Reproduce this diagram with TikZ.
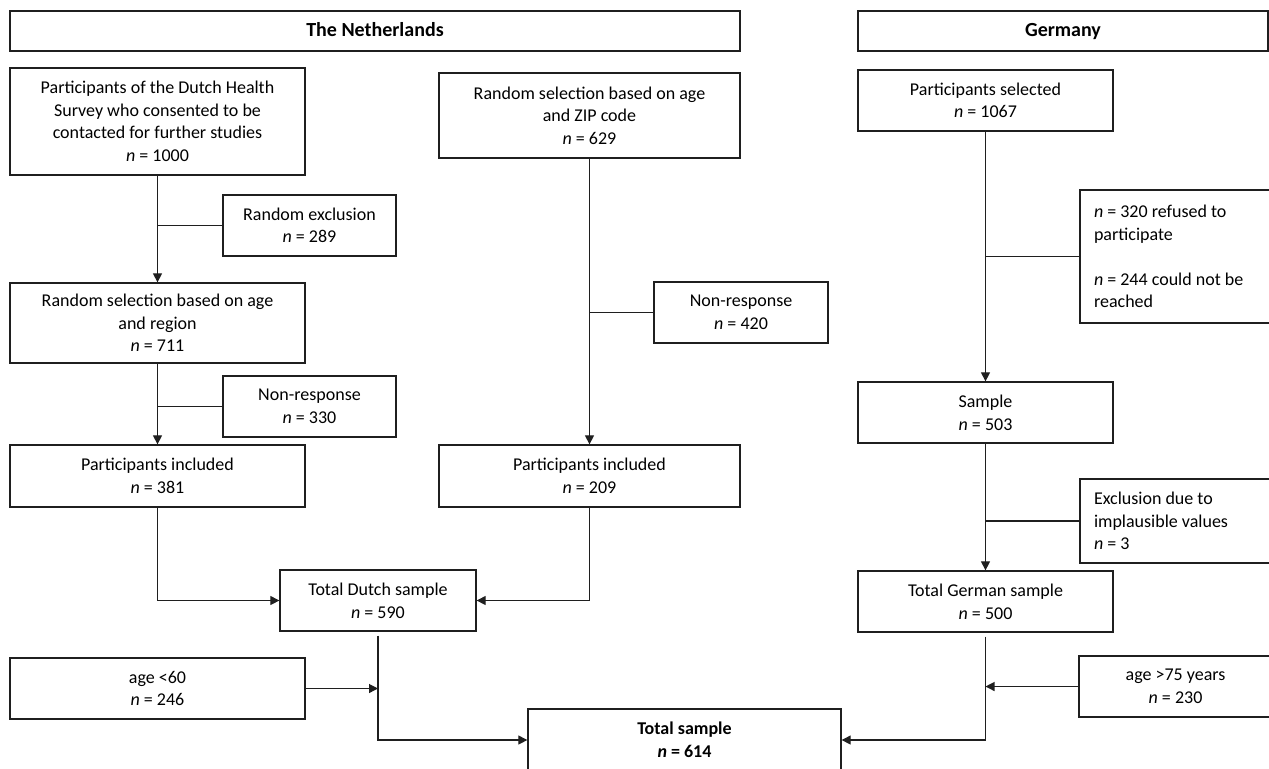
\documentclass[tikz,border=0pt]{standalone}
\usepackage{fontspec}
\setmainfont{Carlito}
\usetikzlibrary{arrows.meta}
\definecolor{linescolor}{rgb}{0.12,0.12,0.12}

\begin{document}
\begin{tikzpicture}[x=0.5pt,y=-0.5pt,
	box/.style={draw=linescolor,line width=0.65pt,align=center,inner sep=2pt,font=\myfont},
	headbox/.style={box,minimum height=20pt,text height=7pt,text depth=2pt,font=\fontsize{10}{12}\selectfont\bfseries},
	sidebox/.style={box,align=flush left,text width=82pt,inner sep=0pt},
	arr/.style={draw=linescolor,line width=0.6pt,-{Triangle[length=4.5pt,width=4.5pt]}},
	branch/.style={draw=linescolor,line width=0.6pt}]

\newcommand{\myfont}{\fontsize{9}{11.3}\selectfont}
\newcommand{\nn}{\textit{n}}

\useasboundingbox (0,0) rectangle (1269,768);

% headers
\node [headbox,minimum width=365pt] (nlhead) at (375,31) {The Netherlands};
\node [headbox,minimum width=205pt] (dehead) at (1063,31) {Germany};

% the netherlands, first sample
\node [box,minimum width=147.5pt,minimum height=53.5pt] (dhs) at (157.5,121.5) {Participants of the Dutch Health\\Survey who consented to be\\contacted for further studies\\\nn{} = 1000};
\node [box,minimum width=86.5pt,minimum height=30.5pt] (randexcl) at (309.5,225.5) {Random exclusion\\\nn{} = 289};
\node [box,minimum width=147.5pt,minimum height=40pt] (regionsel) at (157.5,323) {Random selection based on age\\and region\\\nn{} = 711};
\node [box,minimum width=86.5pt,minimum height=30.5pt] (nonresp1) at (309.5,406.5) {Non-response\\\nn{} = 330};
\node [box,minimum width=147.5pt,minimum height=31pt] (inclnl1) at (157.5,476) {Participants included\\\nn{} = 381};

% the netherlands, second sample
\node [box,minimum width=150.5pt,minimum height=42.5pt] (zipsel) at (589.5,115.5) {Random selection based on age\\and ZIP code\\\nn{} = 629};
\node [box,minimum width=87pt,minimum height=30.5pt] (nonresp2) at (741,312.5) {Non-response\\\nn{} = 420};
\node [box,minimum width=150.5pt,minimum height=31pt] (inclnl2) at (589.5,476) {Participants included\\\nn{} = 209};

\node [box,minimum width=98pt,minimum height=30.5pt] (dutch) at (378,600.5) {Total Dutch sample\\\nn{} = 590};
\node [box,minimum width=147.5pt,minimum height=30.5pt] (agenl) at (157.5,688.5) {age <60\\\nn{} = 246};

% germany
\node [box,minimum width=127.5pt,minimum height=30.5pt] (deselect) at (985.5,100.5) {Participants selected\\\nn{} = 1067};
\node [sidebox,minimum width=96pt,minimum height=66.5pt] (refused) at (1176,256.5) {\nn{} = 320 refused to\\participate\\[11.3pt]\nn{} = 244 could not be\\reached};
\node [box,minimum width=127.5pt,minimum height=30.5pt] (sample) at (985.5,412.5) {Sample\\\nn{} = 503};
\node [sidebox,minimum width=96pt,minimum height=42pt] (implaus) at (1176,521) {Exclusion due to\\implausible values\\\nn{} = 3};
\node [box,minimum width=127.5pt,minimum height=30.5pt] (german) at (985.5,601.5) {Total German sample\\\nn{} = 500};
\node [box,minimum width=96.5pt,minimum height=30.5pt] (agede) at (1175.5,686.5) {age >75 years\\\nn{} = 230};

% total
\node [box,minimum width=156.5pt,minimum height=31pt,font=\myfont\bfseries] (total) at (684.5,740) {Total sample\\\nn{} = 614};

% connectors
\draw [arr] (dhs) -- (regionsel);
\draw [branch] (randexcl.west) -- (randexcl.west -| dhs.south);
\draw [arr] (regionsel) -- (inclnl1);
\draw [branch] (nonresp1.west) -- (nonresp1.west -| regionsel.south);
\draw [arr] (zipsel) -- (inclnl2);
\draw [branch] (nonresp2.west) -- (nonresp2.west -| zipsel.south);
\draw [arr] (inclnl1.south) |- (dutch.west);
\draw [arr] (inclnl2.south) |- (dutch.east);
\draw [arr] ([yshift=-2pt]dutch.south) |- (total.west);
\draw [arr] (agenl.east) -- (agenl.east -| dutch.south);

\draw [arr] (deselect) -- (sample);
\draw [branch] (refused.west) -- (refused.west -| deselect.south);
\draw [arr] (sample) -- (german);
\draw [branch] (implaus.west) -- (implaus.west -| sample.south);
\draw [arr] ([yshift=-2pt]german.south) |- (total.east);
\draw [arr] (agede.west) -- (agede.west -| german.south);
\end{tikzpicture}
\end{document}
